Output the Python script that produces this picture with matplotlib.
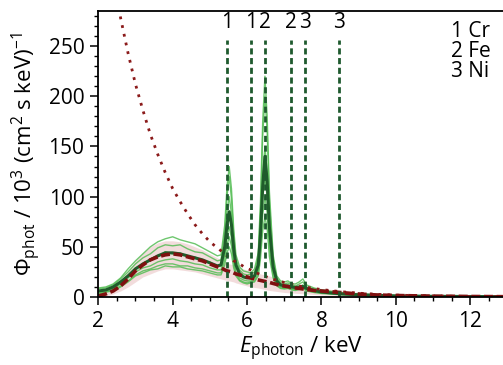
import numpy as np
import matplotlib
matplotlib.use("Agg")
from matplotlib import pyplot as plt

plt.rcParams['font.family'] = ['Open Sans', 'DejaVu Sans']
plt.rcParams['mathtext.fontset'] = 'custom'
plt.rcParams['mathtext.rm'] = 'Open Sans'
plt.rcParams['mathtext.it'] = 'Open Sans:italic'
plt.rcParams['font.size'] = 15

# photon energy grid (keV)
energy = [2.0, 2.2, 2.4, 2.6, 2.8, 3.0, 3.2, 3.4, 3.6, 3.8, 4.0, 4.2, 4.4, 4.6, 4.8, 5.0, 5.2,
          5.3, 5.4, 5.46, 5.52, 5.58, 5.64, 5.7, 5.8, 5.9,
          6.0, 6.1, 6.2, 6.3, 6.36, 6.42, 6.48, 6.54, 6.6, 6.7, 6.8, 6.9,
          7.0, 7.1, 7.2, 7.3, 7.4, 7.5, 7.6, 7.8, 8.0, 8.5, 9.0, 9.5, 10.0, 11.0, 12.0, 13.0]

# single measured spectra
spec_1 = [9, 10, 13, 19, 28, 36, 43, 50, 55, 58, 60, 57, 55, 53, 49, 45, 41,
          42, 72, 110, 130, 108, 68, 42, 30, 26,
          25, 24, 28, 44, 95, 175, 220, 180, 105, 42, 21, 16,
          15, 16, 13, 13, 15, 18, 12, 9, 7, 4.5, 3, 2.5, 1.5, 1, 0.7, 0.4]
spec_2 = [8, 9, 12, 18, 25, 33, 39, 43, 49, 52, 51, 52, 48, 45, 44, 40, 36,
          37, 65, 100, 120, 98, 62, 38, 27, 23,
          22, 23, 25, 40, 85, 160, 200, 165, 95, 38, 19, 14,
          13, 14, 12, 11, 13, 15, 10, 8, 6, 4, 2.6, 2, 1.3, 0.9, 0.6, 0.4]
spec_3 = [5, 7, 9, 14, 21, 29, 32, 38, 40, 45, 43, 44, 40, 40, 36, 35, 30,
          31, 55, 85, 100, 83, 52, 32, 23, 20,
          19, 20, 21, 33, 68, 122, 150, 125, 73, 30, 16, 12,
          11, 12, 10, 9, 10, 12, 9, 6.5, 5, 3.5, 2.2, 1.8, 1.1, 0.7, 0.5, 0.3]
spec_4 = [6, 6, 8, 13, 19, 25, 29, 31, 35, 37, 38, 36, 35, 33, 32, 29, 27,
          27, 42, 60, 70, 59, 38, 25, 19, 17,
          16, 16, 18, 27, 55, 98, 120, 100, 58, 25, 13, 10,
          9, 10, 8.5, 8, 9, 10, 7, 5.5, 4.5, 3, 2, 1.4, 1, 0.6, 0.4, 0.3]
spec_5 = [4, 5, 7, 11, 16, 22, 26, 28, 31, 33, 33, 31, 31, 29, 28, 26, 24,
          24, 37, 52, 60, 51, 34, 23, 17, 15,
          14, 15, 16, 23, 46, 82, 100, 84, 48, 21, 12, 9,
          8.5, 9, 7.5, 7, 8, 9, 6.5, 5, 4, 2.6, 1.8, 1.2, 0.9, 0.5, 0.4, 0.2]
spec_6 = [3, 5, 6, 10, 15, 21, 24, 27, 28, 31, 30, 30, 28, 27, 26, 24, 22,
          22, 32, 44, 50, 43, 29, 21, 16, 14,
          13, 14, 15, 21, 38, 66, 80, 68, 40, 19, 11, 8.5,
          8, 8.5, 7, 6.5, 7.5, 8.5, 6, 4.5, 3.5, 2.4, 1.6, 1.1, 0.8, 0.5, 0.3, 0.2]

# mean spectrum
spec_mean = [6, 7, 10, 15, 21, 28, 33, 37, 41, 44, 44, 43, 41, 39, 37, 34, 31,
             32, 50, 72, 85, 72, 48, 32, 23, 20,
             19, 19, 21, 32, 62, 110, 140, 115, 70, 30, 16, 12,
             11, 11, 10, 9.5, 10, 10.5, 8.5, 6.5, 5, 3.2, 2.2, 1.6, 1.1, 0.7, 0.5, 0.3]

# bremsstrahlung model and its band
model = [1, 3, 6, 11, 18, 26, 32, 37, 40, 42, 43, 42, 40, 38, 36, 33, 30,
         29, 27, 26, 25.5, 25, 24, 23, 22, 21,
         20, 19, 18, 17, 16.5, 16, 15.5, 15, 14.5, 13.5, 12.5, 11.5,
         11, 10.3, 9.6, 9, 8.5, 8, 7.5, 6.5, 6, 4.5, 3, 2, 1.5, 0.8, 0.5, 0.3]
band_low = [0, 1, 3, 6, 10, 15, 20, 23, 26, 28, 28, 27, 26, 25, 23, 21, 19,
            18, 17, 16.5, 16, 15.5, 15, 14, 13, 12,
            11, 10, 9.5, 9, 8.5, 8, 7.5, 7, 6.5, 6, 5.5, 5,
            4.5, 4.2, 4, 3.7, 3.5, 3.2, 3, 2.5, 2, 1.5, 1, 0.7, 0.5, 0.3, 0.2, 0.1]
band_high = [4, 7, 11, 17, 26, 36, 44, 50, 54, 56, 56, 55, 53, 50, 47, 43, 39,
             37, 35, 34, 33, 32.5, 32, 31, 29.5, 28,
             27, 26, 25, 24, 23, 22.5, 22, 21.5, 21, 20, 18.5, 17,
             16, 15, 14, 13, 12, 11.5, 11, 9.5, 8.5, 6.5, 4.5, 3, 2, 1.2, 0.8, 0.5]

# extrapolated curve (dotted)
dotted = [np.nan, np.nan, 319, 278, 243, 212, 186, 162, 142, 124, 108, 95, 83, 72, 63, 55, 49,
          46, 43, 41, 39, 38, 36, 35, 33, 30.5,
          28.5, 27, 25, 23.3, 22.4, 21.5, 20.6, 19.8, 19, 17.7, 16.5, 15.4,
          14.5, 13.6, 12.7, 11.8, 11, 10.3, 9.7, 8.5, 7.4, 5.4, 3.8, 2.7, 1.9, 1, 0.5, 0.26]

# fluorescence lines
line_pos = [5.45, 6.10, 6.48, 7.17, 7.56, 8.48]
line_lab = ['1', '1', '2', '2', '3', '3']
legend_txt = "1 Cr\n2 Fe\n3 Ni"

fig = plt.figure(figsize=(5.03, 3.65), dpi=100)
ax = fig.add_axes([0.1954, 0.1863, 0.8046, 0.7837])

ax.fill_between(energy, band_low, band_high, color='#c86464', alpha=0.22, lw=0)
for s in [spec_1, spec_2, spec_3, spec_4, spec_5, spec_6]:
    ax.plot(energy, s, color='#55bd55', lw=1.0, alpha=0.85)
ax.plot(energy, spec_mean, color='#1f5c2a', lw=2.2)
ax.plot(energy, dotted, color='#8b1a1a', lw=2, ls=(0, (1, 2.2)))
ax.plot(energy, model, color='#7f1010', lw=2.6, ls=(0, (2.5, 1)))

ax.vlines(line_pos, 0, 256, color='#1e5a2e', lw=2.0, linestyles=(0, (2.2, 1.3)))
for p, l in zip(line_pos, line_lab):
    ax.text(p, 273, l, ha='center', va='center', fontsize=15)

ax.text(0.871, 0.965, legend_txt, transform=ax.transAxes, ha='left', va='top',
        fontsize=15, linespacing=0.95)

ax.set_xlim(2, 12.88)
ax.set_ylim(0, 285)
ax.set_xticks([2, 4, 6, 8, 10, 12])
ax.set_xticks(np.arange(2, 13, 0.5), minor=True)
ax.set_yticks([0, 50, 100, 150, 200, 250])
ax.set_yticks(np.arange(0, 281, 10), minor=True)
ax.tick_params(which='major', length=6, width=1.1, pad=4)
ax.tick_params(which='minor', length=3, width=1.0)
ax.spines['right'].set_visible(False)
for sp in ['left', 'bottom', 'top']:
    ax.spines[sp].set_linewidth(1.3)

ax.set_xlabel(r'$E_\mathrm{photon}$ / keV', fontsize=16, labelpad=2)
ax.set_ylabel(r'$\Phi_\mathrm{phot}$ / 10$^3$ (cm$^2$ s keV)$^{-1}$', fontsize=16, labelpad=4)

fig.savefig('out.png', dpi=100)
